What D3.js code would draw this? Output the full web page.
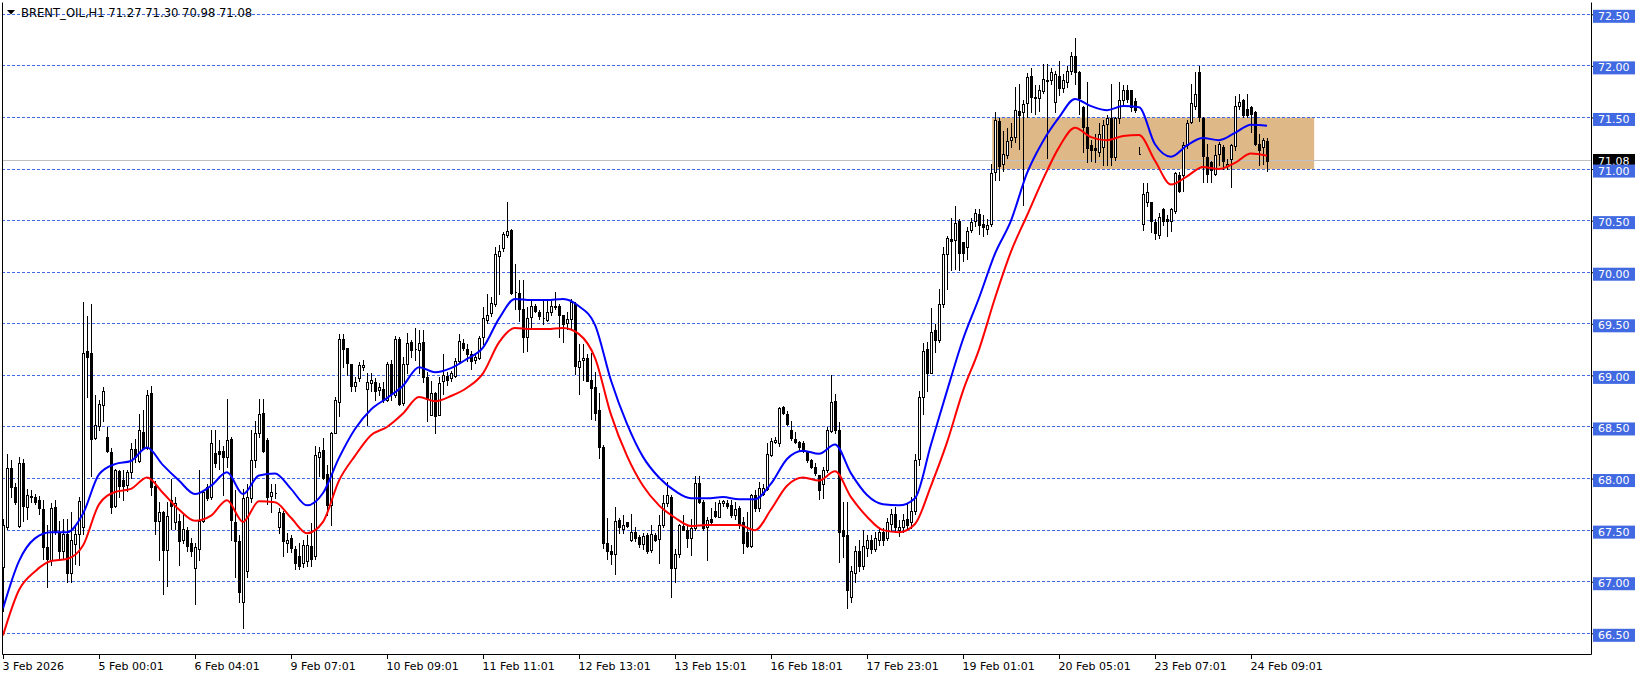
<!DOCTYPE html>
<html>
<head>
<meta charset="utf-8">
<script src="https://cdn.jsdelivr.net/npm/d3@7"></script>
<style>
html,body{margin:0;padding:0;background:#fff;}
svg{display:block;}
text{font-family:"DejaVu Sans",sans-serif;font-size:11px;}
</style>
</head>
<body>
<svg id="chart" width="1641" height="678"></svg>
<script>
// ---------------- DATA ----------------
const symbol = "BRENT_OIL,H1";

const opens = [
67.14,67.53,68.10,67.92,67.54,68.15,67.72,67.82,67.82,67.79,
67.70,67.34,67.21,67.72,67.48,67.30,67.46,67.08,67.37,67.46,
67.53,69.24,69.22,68.39,68.51,68.71,68.40,68.26,67.73,68.07,
67.99,67.94,68.06,68.29,68.17,68.45,68.30,68.83,67.93,67.59,
67.68,67.31,67.79,67.58,67.59,67.40,67.50,67.38,67.13,67.32,
67.59,67.92,67.82,68.25,68.27,68.27,68.21,68.38,67.58,67.39,
66.80,67.10,67.81,68.18,68.44,68.64,68.37,67.83,67.86,67.53,
67.67,67.38,67.42,67.32,67.25,67.18,67.20,67.35,67.25,68.21,
68.28,68.04,67.74,68.44,68.74,69.35,69.27,69.11,68.90,68.97,
69.08,68.87,68.93,68.94,68.86,68.87,68.76,69.11,68.81,69.35,
68.73,69.11,69.32,69.26,69.25,69.32,68.98,68.62,68.83,68.62,
68.95,68.99,68.97,68.99,69.14,69.31,69.26,69.21,69.15,69.17,
69.37,69.54,69.60,69.69,70.16,70.23,70.36,70.41,69.81,69.80,
69.64,69.37,69.57,69.67,69.61,69.56,69.54,69.61,69.66,69.67,
69.59,69.51,69.55,69.69,69.08,69.15,69.17,68.96,68.89,68.66,
68.31,67.38,67.30,67.27,67.60,67.51,67.58,67.40,67.48,67.43,
67.37,67.45,67.31,67.45,67.41,67.55,67.76,67.82,67.13,67.27,
67.54,67.50,67.42,67.52,67.96,67.77,67.53,67.61,67.69,67.63,
67.76,67.76,67.74,67.65,67.71,67.58,67.48,67.35,67.84,67.71,
67.85,67.90,68.23,68.35,68.34,68.69,68.63,68.47,68.38,68.35,
68.34,68.26,68.18,68.11,68.03,67.95,68.08,68.46,68.75,68.47,
67.50,67.45,66.85,67.08,67.30,67.15,67.33,67.40,67.32,67.40,
67.48,67.42,67.56,67.66,67.50,67.53,67.61,67.58,67.69,68.19,
68.79,69.26,69.02,69.44,69.34,69.69,70.18,70.32,70.31,70.50,
70.29,70.24,70.41,70.50,70.56,70.47,70.42,70.47,70.97,71.47,
71.05,71.14,71.28,71.31,71.56,71.55,71.64,71.90,71.70,71.69,
71.76,71.86,71.86,71.65,71.90,71.79,71.84,71.95,72.10,71.94,
71.60,71.41,71.23,71.20,71.17,71.21,71.44,71.49,71.12,71.49,
71.67,71.77,71.77,71.66,71.15,70.47,70.68,70.68,70.49,70.36,
70.61,70.52,70.50,70.59,70.94,70.94,71.23,71.46,71.61,71.94,
71.49,71.12,71.07,70.95,71.15,71.21,71.03,71.10,71.22,71.61,
71.67,71.58,71.60,71.55,71.24,71.21,71.27];

const highs = [
67.61,68.24,68.18,67.96,68.21,68.19,67.90,67.89,67.85,67.83,
67.79,67.55,67.76,67.79,67.59,67.61,67.61,67.68,67.53,67.82,
69.71,69.58,69.69,68.81,68.76,68.89,68.50,68.30,68.09,68.08,
68.08,68.08,68.34,68.38,68.63,68.66,68.86,68.90,67.98,67.77,
67.69,67.77,68.00,67.82,67.66,67.66,67.53,67.42,67.38,68.08,
67.88,67.95,68.47,68.47,68.37,68.32,68.77,68.40,67.89,67.45,
67.90,67.95,68.47,68.56,68.77,68.77,68.39,67.95,67.95,67.71,
67.69,67.47,67.45,67.35,67.38,67.40,67.45,67.57,68.32,68.31,
68.39,68.13,68.45,68.79,69.40,69.40,69.27,69.11,68.98,69.13,
69.15,69.02,69.02,68.97,68.93,68.94,69.13,69.15,69.38,69.37,
69.18,69.41,69.34,69.46,69.44,69.44,69.03,68.95,68.84,68.98,
69.21,69.03,69.04,69.17,69.40,69.35,69.30,69.24,69.22,69.38,
69.66,69.79,69.76,70.24,70.26,70.39,70.68,70.42,70.08,69.92,
69.92,69.66,69.72,69.69,69.63,69.74,69.74,69.72,69.81,69.69,
69.59,69.61,69.74,69.71,69.30,69.30,69.21,69.22,69.03,68.83,
68.33,67.62,67.36,67.72,67.62,67.65,67.58,67.66,67.53,67.45,
67.47,67.47,67.55,67.47,67.65,67.84,67.97,67.84,67.32,67.56,
67.65,67.56,67.61,68.02,68.02,67.79,67.63,67.71,67.77,67.79,
67.79,67.79,67.79,67.77,67.73,67.63,67.68,67.85,67.89,67.97,
67.95,68.34,68.39,68.40,68.69,68.70,68.65,68.56,68.45,68.36,
68.36,68.27,68.19,68.15,68.03,68.11,68.50,69.00,68.82,68.55,
67.77,67.77,67.15,67.35,67.40,67.50,67.45,67.45,67.48,67.52,
67.52,67.62,67.70,67.72,67.60,67.66,67.75,67.82,68.24,68.85,
69.31,69.32,69.65,69.50,69.84,70.24,70.35,70.53,70.64,70.52,
70.29,70.44,70.53,70.61,70.61,70.55,70.52,71.05,71.55,71.49,
71.37,71.40,71.45,71.80,71.82,71.67,71.93,71.98,71.81,71.81,
72.02,72.02,71.98,71.95,72.05,71.92,72.00,72.13,72.27,71.95,
71.61,71.84,71.28,71.34,71.45,71.48,71.52,71.82,71.50,71.84,
71.81,71.81,71.77,71.69,71.21,70.86,70.86,70.68,70.52,70.57,
70.62,70.55,70.62,70.97,70.97,71.26,71.48,71.82,71.94,72.00,
71.50,71.24,71.08,71.23,71.26,71.23,71.10,71.24,71.71,71.73,
71.68,71.73,71.61,71.56,71.34,71.30,71.30];

const lows = [
66.72,67.51,67.82,67.75,67.53,67.59,67.61,67.77,67.75,67.66,
67.22,66.95,67.16,67.46,67.21,67.22,67.00,67.00,67.17,67.16,
67.46,68.79,68.02,68.38,68.47,68.56,68.26,67.67,67.72,67.82,
67.79,67.88,68.01,68.16,68.16,68.29,68.29,67.84,67.46,67.21,
66.88,66.96,67.51,67.51,67.16,67.38,67.30,67.25,66.78,67.21,
67.58,67.79,67.80,68.11,68.09,67.84,68.11,67.40,67.05,66.80,
66.55,67.05,67.77,68.11,68.40,68.26,67.75,67.68,67.81,67.47,
67.25,67.29,67.29,67.12,67.12,67.14,67.15,67.15,67.22,68.02,
68.00,67.65,67.55,68.44,68.61,69.08,69.00,68.85,68.85,68.95,
69.05,68.52,68.85,68.76,68.81,68.74,68.75,68.76,68.79,68.71,
68.71,69.02,69.18,69.15,69.02,68.94,68.56,68.62,68.44,68.62,
68.82,68.91,68.95,68.98,69.12,69.25,69.14,69.06,69.12,69.16,
69.30,69.51,69.58,69.67,69.79,70.21,70.34,69.79,69.64,69.53,
69.23,69.24,69.46,69.61,69.55,69.50,69.53,69.59,69.64,69.37,
69.32,69.45,69.46,69.01,68.82,68.96,68.95,68.58,68.57,68.20,
67.33,67.22,67.17,67.07,67.47,67.47,67.53,67.39,67.39,67.34,
67.32,67.28,67.29,67.39,67.18,67.53,67.73,66.85,67.00,67.24,
67.50,67.34,67.26,67.50,67.76,67.50,67.21,67.56,67.63,67.63,
67.73,67.71,67.63,67.61,67.52,67.28,67.34,67.34,67.69,67.69,
67.84,67.89,68.22,68.34,68.32,68.63,68.52,68.37,68.34,68.27,
68.26,68.16,68.10,68.03,67.80,67.81,68.06,68.45,68.44,67.19,
67.24,66.75,66.80,67.00,67.10,67.12,67.25,67.28,67.30,67.36,
67.36,67.40,67.50,67.48,67.44,67.48,67.50,67.52,67.66,68.13,
68.63,68.85,69.02,69.23,69.32,69.66,69.84,70.02,70.03,70.02,
70.11,70.13,70.39,70.45,70.37,70.35,70.37,70.45,70.89,70.89,
70.98,71.11,71.21,71.26,71.19,70.65,71.50,71.55,71.53,71.56,
71.74,71.11,71.82,71.55,71.72,71.75,71.80,71.92,71.82,71.53,
71.17,71.07,71.08,71.07,71.13,71.04,71.04,71.04,71.09,71.45,
71.63,71.65,71.56,71.55,71.15,70.41,70.64,70.39,70.32,70.33,
70.46,70.35,70.40,70.57,70.78,70.79,71.20,71.45,71.58,71.47,
70.87,70.87,70.87,70.94,71.04,71.00,71.00,70.83,71.18,71.58,
71.50,71.50,71.36,71.23,71.04,71.05,70.98];

const closes = [
67.55,68.10,67.92,67.77,68.15,67.73,67.84,67.83,67.77,67.71,
67.34,67.22,67.71,67.49,67.30,67.46,67.08,67.40,67.46,67.78,
69.22,69.18,68.38,68.52,68.72,68.85,68.27,67.72,68.08,67.93,
67.93,68.06,68.29,68.21,68.47,68.30,68.81,67.92,67.59,67.68,
67.31,67.64,67.73,67.76,67.39,67.51,67.35,67.30,67.34,67.59,
67.87,67.81,68.34,68.15,68.24,68.21,68.37,67.60,67.39,66.90,
67.81,67.82,68.18,68.44,68.63,68.27,67.82,67.87,67.86,67.68,
67.39,67.40,67.33,67.18,67.15,67.36,67.36,67.22,68.23,68.26,
68.01,67.74,68.44,68.76,69.35,69.26,69.12,68.90,68.94,69.10,
69.10,68.94,68.96,68.85,68.89,68.76,69.11,68.82,69.35,68.72,
69.11,69.31,69.25,69.26,69.31,68.98,68.77,68.83,68.61,68.93,
69.00,68.96,69.02,69.14,69.33,69.27,69.21,69.14,69.18,69.36,
69.56,69.59,69.70,70.18,70.21,70.37,70.40,69.80,69.81,69.64,
69.37,69.56,69.67,69.62,69.58,69.56,69.61,69.67,69.67,69.59,
69.50,69.55,69.71,69.09,69.14,69.17,68.95,68.88,68.64,68.31,
67.38,67.30,67.27,67.59,67.53,67.55,67.54,67.48,67.42,67.37,
67.44,67.30,67.46,67.40,67.55,67.76,67.84,67.13,67.27,67.55,
67.50,67.42,67.52,67.96,67.77,67.52,67.60,67.58,67.64,67.76,
67.78,67.73,67.65,67.70,67.56,67.38,67.35,67.84,67.71,67.91,
67.91,68.24,68.36,68.37,68.68,68.64,68.53,68.39,68.35,68.31,
68.27,68.18,68.11,68.05,67.89,68.08,68.47,68.74,68.47,67.48,
67.44,66.92,67.10,67.30,67.15,67.35,67.40,67.32,67.42,67.48,
67.40,67.58,67.66,67.53,67.53,67.60,67.55,67.69,68.18,68.79,
69.24,69.02,69.42,69.34,69.69,70.18,70.33,70.30,70.48,70.19,
70.19,70.40,70.49,70.57,70.46,70.44,70.46,70.96,71.48,71.03,
71.15,71.27,71.31,71.57,71.52,71.63,71.89,71.70,71.69,71.77,
71.87,71.85,71.94,71.92,71.79,71.86,71.95,72.10,71.94,71.69,
71.41,71.20,71.18,71.18,71.34,71.43,71.49,71.12,71.49,71.67,
71.77,71.68,71.60,71.57,71.15,70.76,70.78,70.50,70.38,70.54,
70.50,70.50,70.61,70.96,70.79,71.23,71.45,71.64,71.73,71.50,
71.13,70.95,70.99,71.14,71.24,71.08,71.05,71.23,71.61,71.65,
71.52,71.52,71.53,71.24,71.18,71.28,71.08];

// moving averages, read every 4 bars
const maBars = [0,4,8,12,16,20,24,28,32,36,40,44,48,52,56,60,64,68,72,76,
  80,84,88,92,96,100,104,108,112,116,120,124,128,132,136,140,144,148,152,156,
  160,164,168,172,176,180,184,188,192,196,200,204,208,212,216,220,224,228,232,236,
  240,244,248,252,256,260,264,268,272,276,280,284,288,292,296,300,304,308,312,316];
const maBlue = [66.74,67.20,67.42,67.48,67.48,67.66,68.04,68.14,68.17,68.30,
  68.13,67.98,67.85,67.93,68.06,67.85,68.03,68.05,67.90,67.74,
  67.86,68.20,68.48,68.67,68.78,68.90,69.08,69.03,69.07,69.16,
  69.27,69.55,69.74,69.73,69.73,69.74,69.67,69.49,68.95,68.53,
  68.21,68.01,67.88,67.81,67.81,67.82,67.80,67.80,67.95,68.19,
  68.27,68.24,68.33,68.05,67.84,67.75,67.74,67.81,68.33,68.85,
  69.35,69.75,70.18,70.50,70.96,71.27,71.50,71.68,71.61,71.57,
  71.61,71.60,71.24,71.12,71.23,71.30,71.28,71.35,71.43,71.42];
const maRed = [66.48,66.92,67.10,67.20,67.22,67.35,67.75,67.87,67.90,68.01,
  67.86,67.70,67.59,67.64,67.79,67.58,67.78,67.77,67.62,67.47,
  67.58,67.98,68.22,68.42,68.50,68.63,68.79,68.75,68.80,68.88,
  69.02,69.32,69.46,69.45,69.45,69.46,69.40,69.17,68.62,68.22,
  67.93,67.74,67.62,67.54,67.55,67.55,67.55,67.50,67.70,67.93,
  68.01,67.98,68.07,67.82,67.63,67.50,67.48,67.56,67.93,68.35,
  68.85,69.25,69.75,70.20,70.55,70.90,71.21,71.40,71.31,71.28,
  71.32,71.33,71.08,70.85,70.93,71.02,71.00,71.06,71.15,71.13];

// time axis labels (bar index -> label)
const tickBars = [0,24,48,72,96,120,144,168,192,216,240,264,288,312];
const tickLabels = ["3 Feb 2026","5 Feb 00:01","6 Feb 04:01","9 Feb 07:01","10 Feb 09:01",
  "11 Feb 11:01","12 Feb 13:01","13 Feb 15:01","16 Feb 18:01","17 Feb 23:01",
  "19 Feb 01:01","20 Feb 05:01","23 Feb 07:01","24 Feb 09:01"];
const priceTicks = [72.5,72.0,71.5,71.0,70.5,70.0,69.5,69.0,68.5,68.0,67.5,67.0,66.5];

// zone rectangle (bar range & price range)
const zoneStartBar = 247.3, zoneEndBar = 327.8;
const zoneTop = 71.5, zoneBottom = 71.0;

// ---------------- DRAW ----------------
const svg = d3.select("#chart");
const n = closes.length;
const P = {left: 2, right: 1591, top: 2, bottom: 654};
const x = d3.scaleLinear().domain([0, n - 1]).range([3, 3 + 4 * (n - 1)]);
const y = d3.scaleLinear().domain([66.5, 72.5]).range([633.3, 14.3]);
const py = v => Math.floor(y(v)) + 0.5;
const GRID = "#4169E1";

svg.append("rect").attr("width", 1641).attr("height", 678).attr("fill", "#fff");

// zone
svg.append("rect")
  .attr("x", x(zoneStartBar)).attr("width", x(zoneEndBar) - x(zoneStartBar))
  .attr("y", y(zoneTop)).attr("height", y(zoneBottom) - y(zoneTop))
  .attr("fill", "#DEB887");

// grid
svg.append("g").selectAll("line").data(priceTicks).join("line")
  .attr("x1", P.left).attr("x2", P.right)
  .attr("y1", d => py(d)).attr("y2", d => py(d))
  .attr("stroke", GRID).attr("stroke-width", 1).attr("stroke-dasharray", "3,2")
  .attr("shape-rendering", "crispEdges");

// last price line
const last = closes[n - 1];
svg.append("line").attr("x1", P.left).attr("x2", P.right)
  .attr("y1", py(last)).attr("y2", py(last))
  .attr("stroke", "#C0C0C0").attr("stroke-width", 1).attr("shape-rendering", "crispEdges");

// candles
const bars = d3.range(n).map(i => ({i, o: opens[i], h: highs[i], l: lows[i], c: closes[i]}));
const cg = svg.append("g").attr("shape-rendering", "crispEdges");
cg.selectAll("line").data(bars).join("line")
  .attr("x1", d => Math.round(x(d.i)) + 0.5).attr("x2", d => Math.round(x(d.i)) + 0.5)
  .attr("y1", d => Math.round(y(Math.max(d.h, d.o, d.c))))
  .attr("y2", d => Math.round(y(Math.min(d.l, d.o, d.c))) + 1)
  .attr("stroke", "#000").attr("stroke-width", 1);
cg.selectAll("path").data(bars).join("path")
  .attr("d", d => {
    const cx = Math.round(x(d.i));
    const t = Math.round(y(Math.max(d.o, d.c))) + 0.5;
    const b = Math.round(y(Math.min(d.o, d.c))) + 0.5;
    return `M${cx - 0.5},${t}H${cx + 1.5}V${b}H${cx - 0.5}Z`;
  })
  .attr("fill", d => d.c >= d.o ? "#fff" : "#000")
  .attr("stroke", "#000").attr("stroke-width", 1);

// moving averages
const line = d3.line().x(d => x(d[0])).y(d => y(d[1])).curve(d3.curveMonotoneX);
svg.append("path").attr("d", line(maBars.map((b, k) => [b, maRed[k]])))
  .attr("fill", "none").attr("stroke", "#FF0000").attr("stroke-width", 2);
svg.append("path").attr("d", line(maBars.map((b, k) => [b, maBlue[k]])))
  .attr("fill", "none").attr("stroke", "#0000FF").attr("stroke-width", 2);

// clear outside plot on right, then frame
svg.append("rect").attr("x", P.right + 1).attr("y", 0).attr("width", 1641 - P.right).attr("height", 678).attr("fill", "#fff");
svg.append("rect").attr("x", 0).attr("y", P.bottom + 1).attr("width", 1641).attr("height", 678 - P.bottom).attr("fill", "#fff");
svg.append("path")
  .attr("d", `M${P.left + 0.5},${P.top + 0.5}V${P.bottom + 0.5}H${P.right + 0.5}V${P.top + 0.5}`)
  .attr("fill", "none").attr("stroke", "#000").attr("stroke-width", 1);

// bottom time axis
const xAxis = d3.axisBottom(x).tickValues(tickBars)
  .tickFormat((d, k) => tickLabels[k]).tickSize(5).tickSizeOuter(0);
const xa = svg.append("g").attr("transform", `translate(0,${P.bottom})`).call(xAxis);
xa.select(".domain").remove();
xa.selectAll("text").attr("text-anchor", "start").attr("x", -1).attr("y", 8)
  .attr("fill", "#000").style("font-family", "DejaVu Sans").style("font-size", "11px");
xa.selectAll("line").attr("stroke", "#000");

// right price axis
const lastBox = svg.append("g");
lastBox.append("rect").attr("x", 1593).attr("y", Math.floor(y(last)) - 6)
  .attr("width", 42).attr("height", 13).attr("fill", "#000");
lastBox.append("text").attr("x", 1598).attr("y", Math.floor(y(last)) + 5)
  .attr("fill", "#fff").text(last.toFixed(2));

const yAxis = d3.axisRight(y).tickValues(priceTicks).tickSize(3).tickPadding(4)
  .tickFormat(d => d.toFixed(2));
const ya = svg.append("g").attr("transform", `translate(${P.right},0)`).call(yAxis);
ya.select(".domain").remove();
ya.selectAll("line").attr("stroke", "#000");
ya.selectAll(".tick").insert("rect", "text")
  .attr("x", 2).attr("y", -5).attr("width", 42).attr("height", 13).attr("fill", GRID);
ya.selectAll("text").attr("x", 7).attr("dy", "0.32em").attr("y", 1.5)
  .attr("fill", "#fff").style("font-family", "DejaVu Sans").style("font-size", "11px");

// title
svg.append("path").attr("d", "M7,10L15,10L11,14.5Z").attr("fill", "#000");
svg.append("text").attr("x", 21).attr("y", 17).attr("fill", "#000")
  .style("font-size", "11.6px")
  .text(`${symbol} ${opens[n-1].toFixed(2)} ${highs[n-1].toFixed(2)} ${lows[n-1].toFixed(2)} ${closes[n-1].toFixed(2)}`);
</script>
</body>
</html>
